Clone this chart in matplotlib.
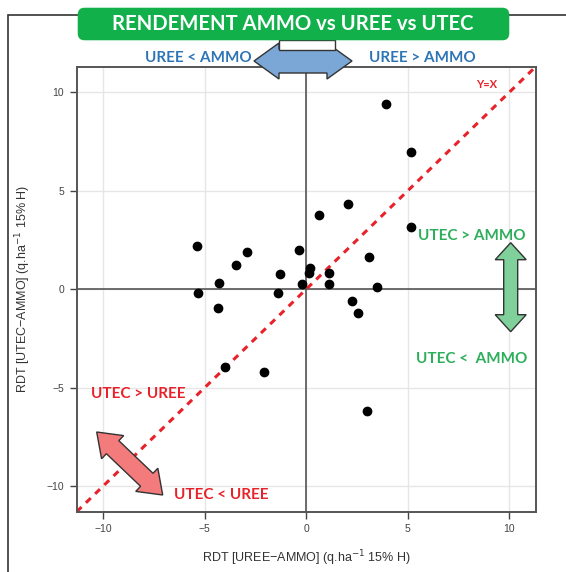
import matplotlib
matplotlib.use("Agg")
import matplotlib.pyplot as plt
import numpy as np
from matplotlib.patches import Polygon, FancyBboxPatch, Rectangle

# Data: yield differences (q/ha, 15% H)
uree_minus_ammo = [3.91, 5.17, 2.07, 0.62, 5.17, -5.37, -2.93, -0.36, -3.47, 3.10,
                   -1.31, 0.21, 0.13, 1.11, -4.30, -0.20, 1.11, 3.51, -5.32, -1.38,
                   -4.32, 2.25, 2.54, -4.02, -2.09, 3.00]
utec_minus_ammo = [9.40, 6.95, 4.34, 3.77, 3.14, 2.21, 1.87, 1.97, 1.24, 1.65,
                   0.78, 1.10, 0.82, 0.82, 0.34, 0.27, 0.27, 0.10, -0.17, -0.17,
                   -0.97, -0.61, -1.19, -3.96, -4.20, -6.17]
ticks = [-10, -5, 0, 5, 10]
lim = (-11.3, 11.3)

W, H = 566, 572
fig = plt.figure(figsize=(W / 100, H / 100), dpi=100)
plt.rcParams["font.family"] = ["Liberation Sans", "DejaVu Sans"]

def fx(x, y):
    return (x / W, 1 - y / H)

ax = fig.add_axes([76.7 / W, 1 - 511.7 / H, (535.7 - 76.7) / W, (511.7 - 66.7) / H])
ax.set_xlim(lim)
ax.set_ylim(lim)
ax.set_xticks(ticks)
ax.set_yticks(ticks)
ax.set_xticklabels(["\u221210", "\u22125", "0", "5", "10"])
ax.set_yticklabels(["\u221210", "\u22125", "0", "5", "10"])
ax.grid(color="#e6e6e6", linewidth=1.0)
ax.set_axisbelow(True)
for s in ax.spines.values():
    s.set_color("#555555")
    s.set_linewidth(1.4)
ax.tick_params(colors="#444444", labelsize=7.5, length=5, width=1.0, pad=4)
ax.axhline(0, color="#555555", lw=1.2, zorder=1)
ax.axvline(0, color="#555555", lw=1.2, zorder=1)
ax.plot(lim, lim, color="#e8222a", lw=2.2, ls=(0, (2.2, 2.0)), zorder=2)
ax.scatter(uree_minus_ammo, utec_minus_ammo, s=36, color="black", zorder=3)
ax.text(9.4, 10.4, "Y=X", color="#e8222a", fontsize=8, fontweight="bold",
        ha="right", va="center", family=["Lato", "DejaVu Sans"])

ax.set_xlabel("RDT [UREE\u2212AMMO] (q.ha$^{-1}$ 15% H)", fontsize=9, color="#333333", labelpad=10)
ax.set_ylabel("RDT [UTEC\u2212AMMO] (q.ha$^{-1}$ 15% H)", fontsize=9, color="#333333", labelpad=10)

# outer frame
fig.patches.append(Rectangle(fx(8, 700), 2, (700 - 15) / H, transform=fig.transFigure,
                             fill=False, edgecolor="#333333", lw=1.2, zorder=0))

def block_arrow(p0, p1, shaft, head, hlen, fc):
    p0, p1 = np.array(p0, float), np.array(p1, float)
    d = p1 - p0
    L = np.hypot(*d)
    u = d / L
    n = np.array([-u[1], u[0]])
    pts = [p0,
           p0 + u * hlen + n * head / 2, p0 + u * hlen + n * shaft / 2,
           p1 - u * hlen + n * shaft / 2, p1 - u * hlen + n * head / 2,
           p1,
           p1 - u * hlen - n * head / 2, p1 - u * hlen - n * shaft / 2,
           p0 + u * hlen - n * shaft / 2, p0 + u * hlen - n * head / 2]
    pts = [fx(*p) for p in pts]
    fig.patches.append(Polygon(pts, closed=True, transform=fig.transFigure,
                               facecolor=fc, edgecolor="#333333", lw=1.0, zorder=5))

# blue horizontal arrow (behind title box)
block_arrow((254, 61), (352, 61), 24, 36, 25, "#7ba7d6")
fig.patches.append(Rectangle(fx(279, 50), (335 - 279) / W, 10 / H, transform=fig.transFigure,
                             facecolor="white", edgecolor="#333333", lw=1.0, zorder=5))
# green vertical arrow
block_arrow((510.7, 242.7), (510.7, 331.7), 14, 31, 17, "#7fd09b")
# red diagonal arrow
block_arrow((96.7, 432), (162.7, 495), 18, 32, 22, "#f47b7b")

# title box
fig.patches.append(FancyBboxPatch(fx(80, 38), (507 - 80) / W, 28 / H,
                                  boxstyle="round,pad=0.004,rounding_size=0.012",
                                  transform=fig.transFigure, facecolor="#12b04b",
                                  edgecolor="none", zorder=6))
fig.text(*fx(293, 24), "RENDEMENT AMMO vs UREE vs UTEC", color="white", fontsize=14.6,
         fontweight="bold", ha="center", va="center", family=["Lato", "DejaVu Sans"], zorder=7)

lab = dict(fontsize=11, fontweight="bold", va="center", family=["Lato", "DejaVu Sans"], zorder=7)
blue, green, red = "#2e75b6", "#2cae5a", "#e8222a"
fig.text(*fx(145, 58), "UREE < AMMO", color=blue, ha="left", **lab)
fig.text(*fx(369, 58), "UREE > AMMO", color=blue, ha="left", **lab)
fig.text(*fx(418, 236), "UTEC > AMMO", color=green, ha="left", **lab)
fig.text(*fx(416, 359), "UTEC <  AMMO", color=green, ha="left", **lab)
fig.text(*fx(91, 394), "UTEC > UREE", color=red, ha="left", **lab)
fig.text(*fx(269, 495), "UTEC < UREE", color=red, ha="right", **lab)

fig.savefig("out.png", dpi=100)
